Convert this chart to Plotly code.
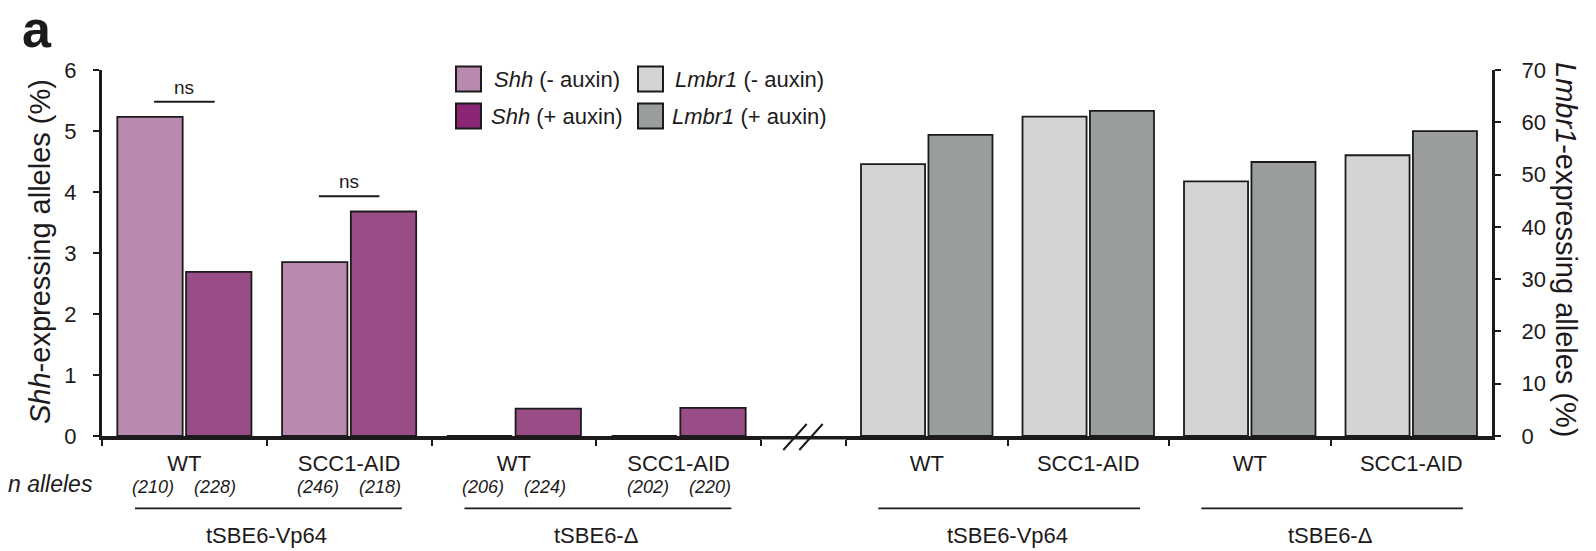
import plotly.graph_objects as go

# ---- data -------------------------------------------------------------
cat_keys = ["Vp64 WT", "Vp64 SCC1-AID", "Delta WT", "Delta SCC1-AID"]
cat_labels = ["WT", "SCC1-AID", "WT", "SCC1-AID"]
group_labels = ["tSBE6-Vp64", "tSBE6-Δ"]

shh_minus = [5.23, 2.85, 0.0, 0.0]
shh_plus = [2.69, 3.68, 0.45, 0.46]
lmbr1_minus = [52.0, 61.1, 48.7, 53.7]
lmbr1_plus = [57.6, 62.2, 52.4, 58.3]

n_minus = [210, 246, 206, 202]
n_plus = [228, 218, 224, 220]
ns_categories = [0, 1]

# ---- style ------------------------------------------------------------
FONT = "Liberation Sans, Arial, sans-serif"
INK = "#1d1a1b"
C_SHH_MINUS = "#b98aae"
C_SHH_PLUS = "#994d86"
C_LMB_MINUS = "#d3d5d4"
C_LMB_PLUS = "#999d9e"
SW_SHH_PLUS = "#8b2676"   # legend swatch is a touch deeper

W, H = 1596, 551
ML, MR, MT, MB = 102, 104, 70, 115
PW, PH = W - ML - MR, H - MT - MB

def px(x):
    return (x - ML) / PW

def py(y):
    return (H - MB - y) / PH

LEFT_DOM = [0.0, px(761)]
RIGHT_DOM = [px(846), 1.0]
BARGAP = 0.165
BARGROUPGAP = 0.05
ncat = len(cat_keys)

def cat_paper(dom, idx):
    return dom[0] + (idx + 0.5) / ncat * (dom[1] - dom[0])

def text(x, y, s, size, xref="paper", yref="paper", xanchor="center",
         yanchor="middle", **kw):
    return dict(x=x, y=y, xref=xref, yref=yref, text=s, showarrow=False,
                xanchor=xanchor, yanchor=yanchor,
                font=dict(family=FONT, size=size, color=INK), **kw)

fig = go.Figure()
bar_line = dict(color=INK, width=1.8)

fig.add_trace(go.Bar(x=cat_keys, y=shh_minus, name="Shh (- auxin)",
                     marker=dict(color=C_SHH_MINUS, line=bar_line),
                     xaxis="x", yaxis="y", showlegend=False))
fig.add_trace(go.Bar(x=cat_keys, y=shh_plus, name="Shh (+ auxin)",
                     marker=dict(color=C_SHH_PLUS, line=bar_line),
                     xaxis="x", yaxis="y", showlegend=False))
fig.add_trace(go.Bar(x=cat_keys, y=lmbr1_minus, name="Lmbr1 (- auxin)",
                     marker=dict(color=C_LMB_MINUS, line=bar_line),
                     xaxis="x2", yaxis="y2", showlegend=False))
fig.add_trace(go.Bar(x=cat_keys, y=lmbr1_plus, name="Lmbr1 (+ auxin)",
                     marker=dict(color=C_LMB_PLUS, line=bar_line),
                     xaxis="x2", yaxis="y2", showlegend=False))

xaxis_common = dict(
    type="category", tickmode="array", tickvals=cat_keys, ticktext=cat_labels,
    tickson="boundaries", ticks="outside", ticklen=6, tickwidth=1.5,
    tickcolor=INK, showline=True, linecolor=INK, linewidth=3.5,
    showgrid=False, zeroline=False, fixedrange=True,
    tickfont=dict(family=FONT, size=22, color=INK), ticklabelstandoff=5,
)
yaxis_common = dict(
    ticks="outside", ticklen=6, tickwidth=1.5, tickcolor=INK,
    showline=True, linecolor=INK, linewidth=3, showgrid=False,
    zeroline=False, fixedrange=True,
    tickfont=dict(family=FONT, size=22, color=INK),
)

fig.update_layout(
    width=W, height=H, margin=dict(l=ML, r=MR, t=MT, b=MB),
    paper_bgcolor="white", plot_bgcolor="white",
    barmode="group", bargap=BARGAP, bargroupgap=BARGROUPGAP,
    xaxis=dict(domain=LEFT_DOM, anchor="y", **xaxis_common),
    xaxis2=dict(domain=RIGHT_DOM, anchor="y2", **xaxis_common),
    yaxis=dict(range=[0, 6], dtick=1, anchor="x", side="left",
               ticksuffix="\u00a0\u00a0", **yaxis_common),
    yaxis2=dict(range=[0, 70], dtick=10, anchor="x2", side="right",
                ticklabelstandoff=16, **yaxis_common),
)

shapes = []
ann = []

# axis break between the two panels
shapes.append(dict(type="line", xref="paper", yref="paper",
                   x0=LEFT_DOM[1], x1=RIGHT_DOM[0], y0=py(437.7), y1=py(437.7),
                   line=dict(color=INK, width=3.5)))
for cx in (795, 811):
    shapes.append(dict(type="line", xref="paper", yref="paper",
                       x0=px(cx - 11.7), y0=py(450), x1=px(cx + 11.7), y1=py(424),
                       line=dict(color=INK, width=2)))

# significance brackets
half = (1 - BARGAP) / 4 * 0.88
for i in ns_categories:
    top = max(shh_minus[i], shh_plus[i]) + 0.25
    shapes.append(dict(type="line", xref="x", yref="y", x0=i - half, x1=i + half,
                       y0=top, y1=top, line=dict(color=INK, width=2)))
    ann.append(text(i, top, "ns", 19, xref="x", yref="y", yanchor="bottom",
                    yshift=2))

# allele counts under the Shh bars
off = (1 - BARGAP) / 4 * 0.9
ann.append(text(px(95), py(484), "<i>n alleles</i>", 23, xanchor="right"))
for i in range(ncat):
    for n, d in ((n_minus[i], -off), (n_plus[i], off)):
        ann.append(text(i + d, py(487.5), f"<i>({n})</i>", 18, xref="x"))

# construct grouping lines and labels
for dom in (LEFT_DOM, RIGHT_DOM):
    step = (dom[1] - dom[0]) / ncat
    for g, label in enumerate(group_labels):
        a, b = 2 * g, 2 * g + 1
        shapes.append(dict(type="line", xref="paper", yref="paper",
                           x0=cat_paper(dom, a) - 0.30 * step,
                           x1=cat_paper(dom, b) + 0.32 * step,
                           y0=py(508.3), y1=py(508.3),
                           line=dict(color=INK, width=1.8)))
        ann.append(text((cat_paper(dom, a) + cat_paper(dom, b)) / 2, py(535),
                        label, 22))

# axis titles
ann.append(text(px(40), py(252), "<i>Shh</i>-expressing alleles (%)", 29,
                textangle=-90))
ann.append(text(px(1566), py(250), "<i>Lmbr1</i>-expressing alleles (%)", 29,
                textangle=90))

# panel letter
ann.append(text(px(37), py(29), "<b>a</b>", 52))

# legend (2 x 2)
legend_items = [
    (456, 79, C_SHH_MINUS, "<i>Shh</i> (- auxin)", 492),
    (456, 116, SW_SHH_PLUS, "<i>Shh</i> (+ auxin)", 489),
    (638, 79, C_LMB_MINUS, "<i>Lmbr1</i> (- auxin)", 673),
    (638, 116, C_LMB_PLUS, "<i>Lmbr1</i> (+ auxin)", 670),
]
for sx, sy, col, label, tx in legend_items:
    shapes.append(dict(type="rect", xref="paper", yref="paper",
                       x0=px(sx), x1=px(sx + 25), y0=py(sy + 12.5), y1=py(sy - 12.5),
                       fillcolor=col, line=dict(color=INK, width=2)))
    ann.append(text(px(tx), py(sy), label, 22, xanchor="left"))

fig.update_layout(shapes=shapes, annotations=ann)
fig.write_html("out.html")
